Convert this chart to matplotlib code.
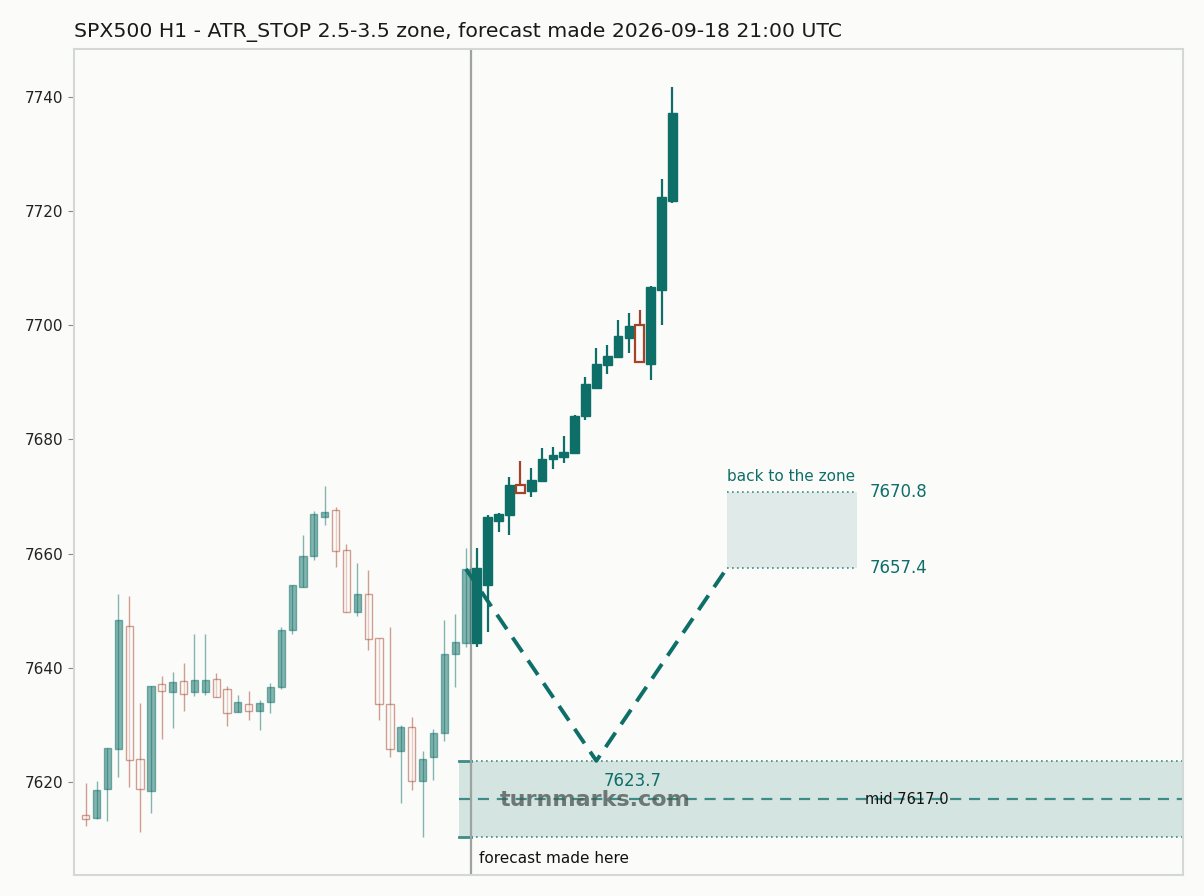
import numpy as np
import matplotlib
matplotlib.use("Agg")
import matplotlib.pyplot as plt
from matplotlib.patches import Rectangle

# history candles
hist_open = [7614.2, 7613.6, 7618.8, 7625.7, 7647.3, 7624.0, 7618.5, 7637.1, 7635.7, 7637.6,
             7635.7, 7635.7, 7638.0, 7636.2, 7632.3, 7633.6, 7632.5, 7634.0, 7636.7, 7646.7,
             7654.2, 7659.6, 7666.5, 7667.6, 7660.6, 7649.7, 7652.9, 7645.3, 7633.6, 7625.5,
             7629.6, 7620.2, 7624.3, 7628.5, 7642.4, 7644.4]
hist_high = [7619.9, 7620.1, 7626.0, 7653.0, 7652.5, 7633.8, 7636.8, 7638.5, 7639.2, 7640.8,
             7645.9, 7645.9, 7639.0, 7636.8, 7635.3, 7635.9, 7634.4, 7637.3, 7647.2, 7654.5,
             7663.2, 7667.5, 7671.9, 7668.2, 7661.6, 7658.3, 7657.1, 7645.3, 7647.2, 7630.0,
             7631.3, 7625.5, 7629.2, 7648.3, 7649.5, 7660.9]
hist_low = [7612.2, 7613.5, 7613.1, 7620.8, 7619.1, 7611.2, 7614.5, 7627.5, 7629.4, 7632.4,
            7635.1, 7635.2, 7634.8, 7629.8, 7632.2, 7630.9, 7629.1, 7632.0, 7636.2, 7645.9,
            7654.2, 7658.9, 7665.0, 7657.6, 7649.8, 7649.0, 7643.1, 7630.9, 7624.4, 7616.4,
            7618.6, 7610.3, 7620.3, 7627.1, 7636.6, 7643.7]
hist_close = [7613.5, 7618.6, 7626.0, 7648.4, 7623.9, 7618.8, 7636.8, 7635.9, 7637.5, 7635.4,
              7637.8, 7637.8, 7634.9, 7632.0, 7634.0, 7632.4, 7633.8, 7636.6, 7646.6, 7654.5,
              7659.5, 7666.9, 7667.3, 7660.4, 7649.8, 7653.0, 7645.0, 7633.6, 7625.7, 7629.7,
              7620.1, 7624.1, 7628.5, 7642.5, 7644.6, 7657.3]

# candles after the forecast time
fc_open = [7644.4, 7654.5, 7665.8, 7666.8, 7672.0, 7670.9, 7672.8, 7676.6, 7676.9, 7677.7,
           7684.1, 7689.1, 7693.1, 7694.5, 7697.7, 7700.0, 7693.2, 7706.2, 7721.8]
fc_high = [7660.9, 7666.8, 7667.1, 7673.4, 7676.2, 7675.0, 7678.5, 7678.7, 7680.6, 7684.3,
           7691.0, 7696.0, 7696.6, 7700.9, 7702.2, 7702.7, 7706.9, 7725.6, 7741.8]
fc_low = [7643.7, 7646.3, 7663.7, 7663.3, 7670.7, 7670.0, 7672.8, 7674.9, 7675.8, 7677.7,
          7683.4, 7689.1, 7691.5, 7694.5, 7695.2, 7693.5, 7690.5, 7700.1, 7721.5]
fc_close = [7657.4, 7666.5, 7667.0, 7672.0, 7670.7, 7672.9, 7676.6, 7677.3, 7677.8, 7684.1,
            7689.7, 7693.2, 7694.6, 7698.1, 7699.9, 7693.6, 7706.7, 7722.5, 7737.2]

zone_lo = 7610.3
zone_hi = 7623.7
zone_mid = 7617.0
back_lo = 7657.4
back_hi = 7670.8
path_x = [35, 47, 59]
path_y = [7657.3, 7623.7, 7657.4]
back_x0, back_x1 = 59, 71
forecast_x = 35.5
yticks = [7620, 7640, 7660, 7680, 7700, 7720, 7740]

title = "SPX500 H1 - ATR_STOP 2.5-3.5 zone, forecast made 2026-09-18 21:00 UTC"

TEAL = "#0e6e68"
RED = "#a5432a"
BG = "#fbfbf9"

fig = plt.figure(figsize=(12.04, 8.96), dpi=100, facecolor=BG)
ax = fig.add_axes([74 / 1204, 1 - 875 / 896, (1183 - 74) / 1204, (875 - 49) / 896])
ax.set_facecolor(BG)


def candles(x0, o, h, l, c, width, alpha, wick_lw):
    for i in range(len(o)):
        x = x0 + i
        up = c[i] >= o[i]
        col = TEAL if up else RED
        ax.plot([x, x], [l[i], h[i]], color=col, lw=wick_lw, alpha=alpha,
                solid_capstyle="butt", zorder=3)
        lo, hi = min(o[i], c[i]), max(o[i], c[i])
        if up:
            r = Rectangle((x - width / 2, lo), width, max(hi - lo, 0.15), facecolor=col,
                          edgecolor=col, lw=1, alpha=alpha, zorder=4)
        else:
            r = Rectangle((x - width / 2, lo), width, max(hi - lo, 0.15), facecolor=BG,
                          edgecolor=col, lw=1.6 if alpha == 1 else 1, alpha=alpha, zorder=4)
        ax.add_patch(r)


# target zone below
ax.add_patch(Rectangle((34.4, zone_lo), 101 - 34.4, zone_hi - zone_lo, facecolor=TEAL,
                       alpha=0.16, lw=0, zorder=1))
for yv in (zone_lo, zone_hi):
    ax.plot([34.4, forecast_x], [yv, yv], color="#3d8c86", lw=2, zorder=2)
    ax.plot([forecast_x, 101], [yv, yv], color="#3d8c86", lw=1.2, ls=(0, (1, 2)), zorder=2)
ax.plot([34.4, 101], [zone_mid, zone_mid], color="#3d8c86", lw=1.6, ls=(0, (5, 3.5)), zorder=2)

# back to the zone box
ax.add_patch(Rectangle((back_x0, back_lo), back_x1 - back_x0, back_hi - back_lo,
                       facecolor=TEAL, alpha=0.11, lw=0, zorder=1))
for yv in (back_lo, back_hi):
    ax.plot([back_x0, back_x1], [yv, yv], color="#3d8c86", lw=1.2, ls=(0, (1, 2)), zorder=2)

ax.axvline(forecast_x, color="#9ea39f", lw=1.6, zorder=2)

candles(0, hist_open, hist_high, hist_low, hist_close, 0.66, 0.5, 1.0)
candles(36, fc_open, fc_high, fc_low, fc_close, 0.8, 1.0, 1.6)

ax.plot(path_x, path_y, color=TEAL, lw=2.8, ls=(0, (4.5, 2.6)), zorder=5)

ax.text(back_x0, back_hi + 1.4, "back to the zone", color=TEAL, fontsize=11, ha="left", va="bottom")
ax.text(72.2, back_hi, f"{back_hi:.1f}", color=TEAL, fontsize=12, ha="left", va="center")
ax.text(72.2, back_lo, f"{back_lo:.1f}", color=TEAL, fontsize=12, ha="left", va="center")
ax.text(47.7, 7619.25, f"{zone_hi:.1f}", color=TEAL, fontsize=12, ha="left", va="baseline")
ax.text(71.7, zone_mid, f"mid {zone_mid:.1f}", color="#111111", fontsize=10.5, ha="left", va="center")
ax.text(46.9, zone_mid - 0.1, "turnmarks.com", color="#4a5450", alpha=0.75, fontsize=16,
        fontweight="bold", ha="center", va="center", zorder=6)
ax.text(36.2, 7605.8, "forecast made here", color="#111111", fontsize=11, ha="left", va="baseline")

ax.set_xlim(-1.08, 101)
ax.set_ylim(7603.7, 7748.4)
ax.set_xticks([])
ax.set_yticks(yticks)
ax.tick_params(axis="y", labelsize=11, colors="#222222", length=4, color="#888888")
for s in ax.spines.values():
    s.set_color("#d3d7d5")
    s.set_linewidth(1.5)

ax.set_title(title, loc="left", fontsize=14.7, color="#1a1a1a", pad=9)

fig.savefig("out.png", dpi=100, facecolor=BG)
